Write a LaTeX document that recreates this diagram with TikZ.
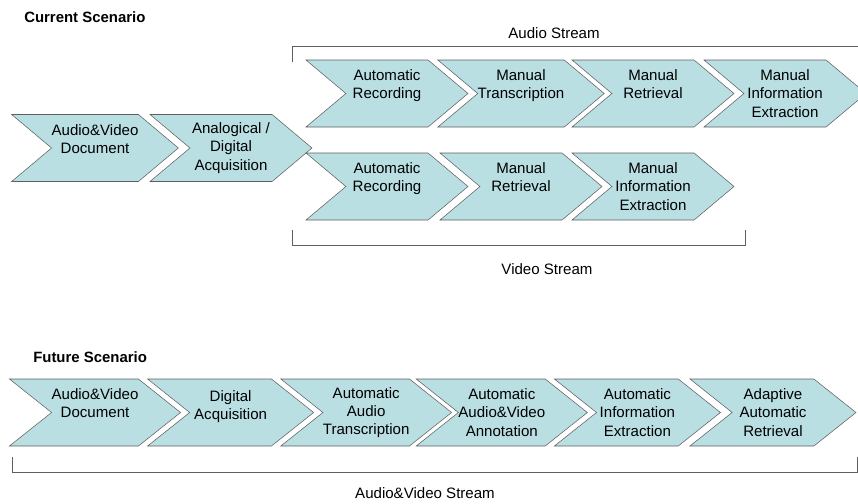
\documentclass[tikz,border=0pt]{standalone}
\usepackage{fontspec}
\setmainfont{Liberation Sans}
\usepackage{xcolor}
\usepackage{tikz}
\usetikzlibrary{shapes.symbols}
\definecolor{chevfill}{RGB}{186,223,227}
\definecolor{chevline}{RGB}{95,95,95}
\tikzstyle{chevron} = [draw=chevline, fill=chevfill, signal, signal from=west,
signal to=east, signal pointer angle=80, minimum width=121.5pt,
minimum height=50.25pt, inner sep=0pt, align=center,
font=\fontsize{11.3}{13.6}\selectfont]
\tikzstyle{widechevron} = [chevron, minimum width=124.5pt, signal pointer angle=77]
\tikzstyle{title} = [anchor=west, inner sep=0pt, font=\fontsize{11.2}{13}\selectfont\bfseries]
\tikzstyle{stream} = [inner sep=0pt, font=\fontsize{11.3}{13.6}\selectfont]
\tikzstyle{bracket} = [draw=chevline, thin]

\begin{document}
\begin{tikzpicture}[x=0.75pt, y=-0.75pt]
    \useasboundingbox (0,0) rectangle (858,504);

    % current scenario
    \node[title] (current) at (24,17) {Current Scenario};
    \node[chevron] (avdoc) at (95,148) {Audio\&Video\\Document\\~};
    \node[chevron] (acq) at (231,148) {Analogical /\\Digital\\Acquisition};

    \node[chevron] (arec) at (387,93.5) {Automatic\\Recording\\~};
    \node[chevron] (atrans) at (521,93.5) {Manual\\Transcription\\~};
    \node[chevron] (aretr) at (653,93.5) {Manual\\Retrieval\\~};
    \node[chevron] (aextr) at (785,93.5) {Manual\\Information\\Extraction};

    \node[chevron] (vrec) at (387,186.5) {Automatic\\Recording\\~};
    \node[chevron] (vretr) at (521,186.5) {Manual\\Retrieval\\~};
    \node[chevron] (vextr) at (653,186.5) {Manual\\Information\\Extraction};

    \draw[bracket] (292,62) -- (292,46) -- (870,46);
    \node[stream] (audiostream) at (554,33) {Audio Stream};
    \draw[bracket] (292,230) -- (292,245) -- (745,245) -- (745,230);
    \node[stream] (videostream) at (547,269) {Video Stream};

    % future scenario
    \node[title] (future) at (33,357) {Future Scenario};
    \node[widechevron] (favdoc) at (95,412.5) {Audio\&Video\\Document\\~};
    \node[widechevron] (facq) at (230.6,412.5) {Digital\\Acquisition\\[-3pt]~};
    \node[widechevron] (ftrans) at (366.2,412.5) {Automatic\\Audio\\Transcription};
    \node[widechevron] (fannot) at (501.8,412.5) {Automatic\\Audio\&Video\\Annotation};
    \node[widechevron] (fextr) at (637.4,412.5) {Automatic\\Information\\Extraction};
    \node[widechevron] (fretr) at (773,412.5) {Adaptive\\Automatic\\Retrieval};

    \draw[bracket] (12,457) -- (12,472) -- (857,472) -- (857,457);
    \node[stream] (avstream) at (425,493) {Audio\&Video Stream};
\end{tikzpicture}
\end{document}
